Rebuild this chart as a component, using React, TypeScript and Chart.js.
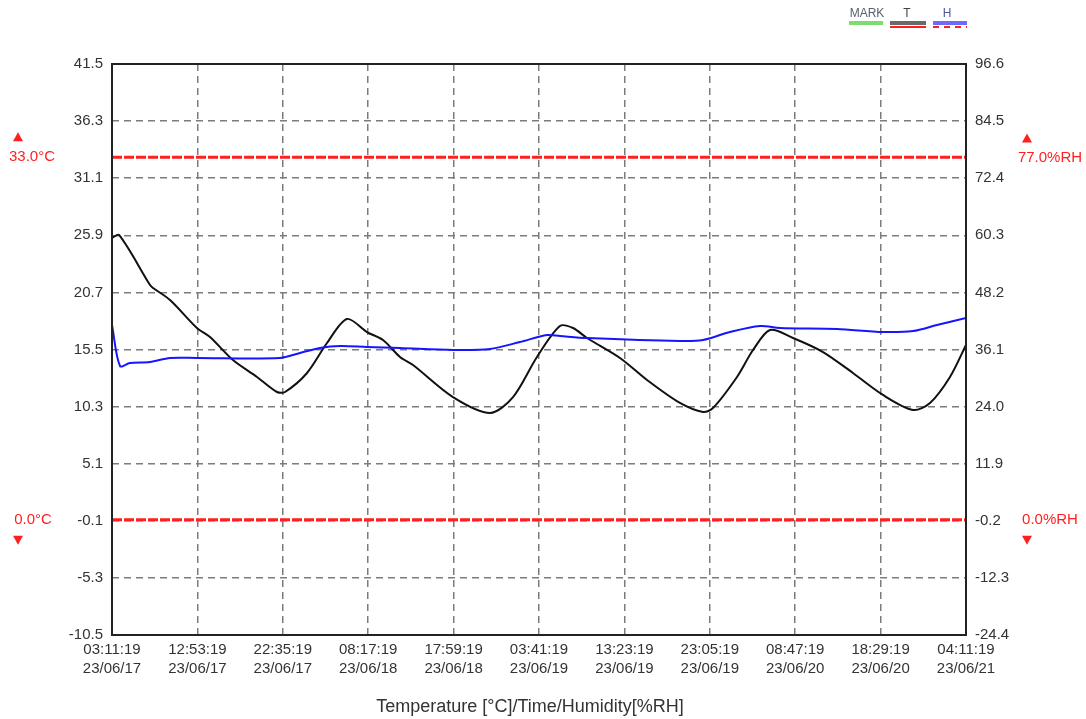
import { useEffect, useRef } from 'react';
import { Chart, registerables } from 'chart.js';

Chart.register(...registerables);

// X axis: hours elapsed since 03:11:19 23/06/17
const tickHours = [0, 9.7, 19.4, 29.1, 38.8, 48.5, 58.2, 67.9, 77.6, 87.3, 97];
const timeLabels = ['03:11:19', '12:53:19', '22:35:19', '08:17:19', '17:59:19', '03:41:19', '13:23:19', '23:05:19', '08:47:19', '18:29:19', '04:11:19'];
const dateLabels = ['23/06/17', '23/06/17', '23/06/17', '23/06/18', '23/06/18', '23/06/19', '23/06/19', '23/06/19', '23/06/20', '23/06/20', '23/06/21'];

// Y axes tick values
const tempTicks = [-10.5, -5.3, -0.1, 5.1, 10.3, 15.5, 20.7, 25.9, 31.1, 36.3, 41.5];
const humTicks = [-24.4, -12.3, -0.2, 11.9, 24.0, 36.1, 48.2, 60.3, 72.4, 84.5, 96.6];

// Alarm limits
const tempHigh = 33.0;
const tempLow = 0.0;
const humHigh = 77.0;
const humLow = 0.0;

// Temperature series (T)
const tempHours = [0, 0.8, 4.32, 4.66, 6.59, 9.65, 11.13, 13.74, 16.47, 18.74, 19.65, 22.15, 24.42, 26.69, 28.96, 30.78, 32.71, 34.19, 38.73, 42.93, 45.55, 48.27, 50.88, 52.36, 53.95, 57.7, 60.77, 64.51, 67.13, 68.26, 70.99, 72.81, 74.74, 77.35, 80.76, 84.16, 87.57, 90.98, 92.91, 95.18, 97];
const tempValues = [25.65, 25.93, 21.37, 21.1, 20.01, 17.46, 16.64, 14.54, 13.0, 11.63, 11.63, 13.36, 16.09, 18.28, 17.09, 16.37, 14.82, 14.09, 11.17, 9.72, 11.17, 14.82, 17.64, 17.46, 16.55, 14.73, 12.72, 10.63, 9.81, 10.17, 13.0, 15.45, 17.28, 16.55, 15.27, 13.36, 11.36, 9.99, 10.63, 13.0, 15.91];

// Humidity series (H)
const humHours = [0, 0.91, 2.04, 4.32, 6.59, 9.65, 19.08, 21.35, 23.62, 25.9, 28.96, 32.71, 38.73, 42.93, 46.34, 49.41, 50.88, 53.95, 64.51, 67.13, 70.2, 73.6, 75.87, 82.35, 87.57, 90.98, 93.7, 97];
const humValues = [41.29, 32.6, 33.24, 33.45, 34.3, 34.3, 34.3, 35.36, 36.42, 36.84, 36.63, 36.42, 35.99, 36.2, 37.69, 39.17, 38.96, 38.54, 37.9, 38.11, 39.81, 41.08, 40.66, 40.44, 39.81, 40.02, 41.29, 42.77];

const FONT = "'Liberation Sans', Arial, sans-serif";
const RED = '#ff1f1f';

const framePlugin = {
  id: 'frame',
  afterDatasetsDraw(chart: any) {
    const { ctx, chartArea: a } = chart;
    ctx.save();
    ctx.strokeStyle = '#222';
    ctx.lineWidth = 2;
    ctx.strokeRect(a.left, a.top, a.right - a.left, a.bottom - a.top);
    ctx.restore();
  },
};

const limitLabelsPlugin = {
  id: 'limitLabels',
  afterDraw(chart: any) {
    const { ctx } = chart;
    const yT = chart.scales.yT;
    const yH = chart.scales.yH;
    ctx.save();
    ctx.fillStyle = RED;
    ctx.font = `15px ${FONT}`;
    ctx.textBaseline = 'middle';
    ctx.textAlign = 'center';

    const up = (x: number, y: number) => {
      ctx.beginPath();
      ctx.moveTo(x - 5, y + 4);
      ctx.lineTo(x + 5, y + 4);
      ctx.lineTo(x, y - 5);
      ctx.closePath();
      ctx.fill();
    };
    const down = (x: number, y: number) => {
      ctx.beginPath();
      ctx.moveTo(x - 5, y - 4);
      ctx.lineTo(x + 5, y - 4);
      ctx.lineTo(x, y + 5);
      ctx.closePath();
      ctx.fill();
    };

    const th = yT.getPixelForValue(tempHigh);
    const tl = yT.getPixelForValue(tempLow);
    const hh = yH.getPixelForValue(humHigh);
    const hl = yH.getPixelForValue(humLow);

    ctx.fillText(tempHigh.toFixed(1) + '°C', 32, th);
    up(18, th - 20);
    ctx.fillText(tempLow.toFixed(1) + '°C', 33, tl);
    down(18, tl + 20);

    ctx.fillText(humHigh.toFixed(1) + '%RH', 1050, hh + 1);
    up(1027, hh - 18);
    ctx.fillText(humLow.toFixed(1) + '%RH', 1050, hl);
    down(1027, hl + 20);
    ctx.restore();
  },
};

const legendPlugin = {
  id: 'customLegend',
  afterDraw(chart: any) {
    const { ctx } = chart;
    ctx.save();
    ctx.font = `12px ${FONT}`;
    ctx.textAlign = 'center';
    ctx.textBaseline = 'middle';

    ctx.fillStyle = '#556070';
    ctx.fillText('MARK', 867, 14);
    ctx.fillStyle = '#7ddc6f';
    ctx.fillRect(849, 21, 34, 4);

    ctx.fillStyle = '#444';
    ctx.fillText('T', 907, 14);
    ctx.fillStyle = '#6a6a6a';
    ctx.fillRect(890, 21, 36, 4);
    ctx.fillStyle = RED;
    ctx.fillRect(890, 26, 36, 2);

    ctx.fillStyle = '#4a5aa0';
    ctx.fillText('H', 947, 14);
    ctx.fillStyle = '#6b6bff';
    ctx.fillRect(933, 21, 34, 4);
    ctx.strokeStyle = RED;
    ctx.lineWidth = 2;
    ctx.setLineDash([6, 5]);
    ctx.beginPath();
    ctx.moveTo(933, 27);
    ctx.lineTo(967, 27);
    ctx.stroke();
    ctx.restore();
  },
};

const titlePlugin = {
  id: 'bottomTitle',
  afterDraw(chart: any) {
    const { ctx } = chart;
    ctx.save();
    ctx.font = `18px ${FONT}`;
    ctx.fillStyle = '#333';
    ctx.textAlign = 'center';
    ctx.textBaseline = 'middle';
    ctx.fillText('Temperature [°C]/Time/Humidity[%RH]', 530, 707);
    ctx.restore();
  },
};

export default function App() {
  const canvasRef = useRef<HTMLCanvasElement | null>(null);

  useEffect(() => {
    if (!canvasRef.current) return;
    const gridColor = '#7c7c7c';
    const tickFont = { family: FONT, size: 15, lineHeight: 1.27 };

    const chart = new Chart(canvasRef.current, {
      type: 'line',
      data: {
        datasets: [
          {
            label: 'T high',
            data: [{ x: tickHours[0], y: tempHigh }, { x: tickHours[tickHours.length - 1], y: tempHigh }],
            yAxisID: 'yT',
            borderColor: RED,
            borderWidth: 3,
            borderDash: [10, 2],
            pointRadius: 0,
          },
          {
            label: 'T low',
            data: [{ x: tickHours[0], y: tempLow }, { x: tickHours[tickHours.length - 1], y: tempLow }],
            yAxisID: 'yT',
            borderColor: RED,
            borderWidth: 3,
            borderDash: [10, 2],
            pointRadius: 0,
          },
          {
            label: 'H',
            data: humHours.map((h, i) => ({ x: h, y: humValues[i] })),
            yAxisID: 'yH',
            borderColor: '#1515ff',
            borderWidth: 2,
            pointRadius: 0,
            tension: 0.3,
          },
          {
            label: 'T',
            data: tempHours.map((h, i) => ({ x: h, y: tempValues[i] })),
            yAxisID: 'yT',
            borderColor: '#111',
            borderWidth: 2,
            pointRadius: 0,
            tension: 0.3,
          },
        ],
      },
      options: {
        animation: false,
        responsive: false,
        layout: { padding: { top: 64, left: 0, right: 0, bottom: 0 } },
        plugins: { legend: { display: false }, tooltip: { enabled: false } },
        scales: {
          x: {
            type: 'linear',
            min: tickHours[0],
            max: tickHours[tickHours.length - 1],
            afterBuildTicks: (scale: any) => {
              scale.ticks = tickHours.map((v) => ({ value: v }));
            },
            afterFit: (scale: any) => {
              scale.height = 84;
            },
            grid: { color: gridColor, lineWidth: 1.5, drawTicks: false },
            border: { display: false, dash: [7, 5] },
            ticks: {
              autoSkip: false,
              maxRotation: 0,
              padding: 5,
              color: '#333',
              font: tickFont,
              callback: (_v: any, i: number) => [timeLabels[i], dateLabels[i]],
            },
          },
          yT: {
            type: 'linear',
            position: 'left',
            min: tempTicks[0],
            max: tempTicks[tempTicks.length - 1],
            afterBuildTicks: (scale: any) => {
              scale.ticks = tempTicks.map((v) => ({ value: v }));
            },
            afterFit: (scale: any) => {
              scale.width = 112;
            },
            grid: { color: gridColor, lineWidth: 1.5, drawTicks: false },
            border: { display: false, dash: [7, 5] },
            ticks: {
              padding: 9,
              color: '#333',
              font: tickFont,
              callback: (v: any) => Number(v).toFixed(1),
            },
          },
          yH: {
            type: 'linear',
            position: 'right',
            min: humTicks[0],
            max: humTicks[humTicks.length - 1],
            afterBuildTicks: (scale: any) => {
              scale.ticks = humTicks.map((v) => ({ value: v }));
            },
            afterFit: (scale: any) => {
              scale.width = 120;
            },
            grid: { drawOnChartArea: false, drawTicks: false },
            border: { display: false },
            ticks: {
              padding: 9,
              color: '#333',
              font: tickFont,
              callback: (v: any) => Number(v).toFixed(1),
            },
          },
        },
      },
      plugins: [framePlugin, limitLabelsPlugin, legendPlugin, titlePlugin],
    } as any);

    return () => chart.destroy();
  }, []);

  return (
    <div style={{ position: 'absolute', left: 0, top: 0, width: 1086, height: 719, background: '#fff' }}>
      <canvas ref={canvasRef} width={1086} height={719} />
    </div>
  );
}
